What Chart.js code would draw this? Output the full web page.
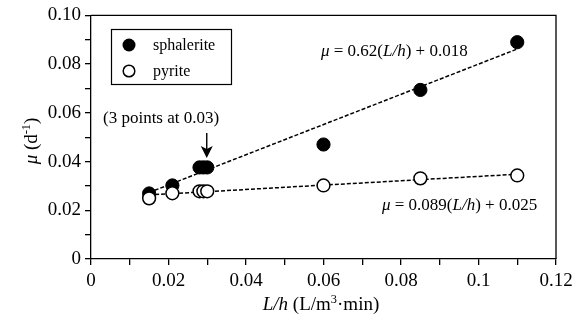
<!DOCTYPE html>
<html>
<head>
<meta charset="utf-8">
<script src="https://cdn.jsdelivr.net/npm/chart.js@4"></script>
<style>
  html, body { margin: 0; padding: 0; background: #fff; }
  #wrap { width: 579px; height: 328px; }
</style>
</head>
<body>
<div id="wrap"><canvas id="c"></canvas></div>
<script>
// measured points
const sphaleriteX = [0.015, 0.021, 0.028, 0.029, 0.030, 0.060, 0.085, 0.110];
const sphaleriteY = [0.0269, 0.0302, 0.0376, 0.0376, 0.0376, 0.0470, 0.0694, 0.0890];
const pyriteX = [0.015, 0.021, 0.028, 0.029, 0.030, 0.060, 0.085, 0.110];
const pyriteY = [0.0249, 0.0270, 0.0278, 0.0278, 0.0278, 0.0302, 0.0331, 0.0343];

// fitted lines (end points)
const sphaleriteFitX = [0.015, 0.110];
const sphaleriteFitY = [0.0273, 0.0862];
const pyriteFitX = [0.015, 0.110];
const pyriteFitY = [0.0263, 0.0348];

const xTickLabels = ['0', '0.02', '0.04', '0.06', '0.08', '0.1', '0.12'];
const yTickLabels = ['0', '0.02', '0.04', '0.06', '0.08', '0.10'];

const FONT = '"Liberation Serif", "DejaVu Serif", serif';

const toPts = (xs, ys) => xs.map((x, i) => ({x: x, y: ys[i]}));

// draw "parts" of mixed text: [text, italic, sup]
function drawRich(ctx, parts, x, y, size, align) {
  const widths = parts.map(p => {
    ctx.font = (p[1] ? 'italic ' : '') + (p[2] ? size * 0.65 : size) + 'px ' + FONT;
    return ctx.measureText(p[0]).width;
  });
  const total = widths.reduce((a, b) => a + b, 0);
  let cx = align === 'center' ? x - total / 2 : x;
  ctx.textBaseline = 'alphabetic';
  ctx.textAlign = 'left';
  parts.forEach((p, i) => {
    ctx.font = (p[1] ? 'italic ' : '') + (p[2] ? size * 0.65 : size) + 'px ' + FONT;
    ctx.fillText(p[0], cx, p[2] ? y - size * 0.38 : y);
    cx += widths[i];
  });
}

const extras = {
  id: 'extras',
  afterDraw(chart) {
    const {ctx, chartArea: a, scales} = chart;
    ctx.save();
    ctx.strokeStyle = '#000';
    ctx.fillStyle = '#000';
    ctx.lineWidth = 1.3;
    // frame top and right
    ctx.beginPath();
    ctx.moveTo(a.left, a.top);
    ctx.lineTo(a.right, a.top);
    ctx.lineTo(a.right, a.bottom);
    ctx.stroke();

    // legend box
    ctx.lineWidth = 1.2;
    ctx.strokeRect(111.5, 29.5, 120, 55);
    ctx.beginPath();
    ctx.arc(129, 45, 6.5, 0, Math.PI * 2);
    ctx.fill();
    ctx.beginPath();
    ctx.arc(129, 71, 5.8, 0, Math.PI * 2);
    ctx.fillStyle = '#fff';
    ctx.lineWidth = 1.5;
    ctx.fill();
    ctx.stroke();
    ctx.fillStyle = '#000';
    ctx.font = '16px ' + FONT;
    ctx.textBaseline = 'alphabetic';
    ctx.textAlign = 'left';
    ctx.fillText('sphalerite', 153, 50);
    ctx.fillText('pyrite', 153, 76);

    // annotation + arrow
    ctx.font = '17px ' + FONT;
    ctx.fillText('(3 points at 0.03)', 103, 123);
    const ax = scales.x.getPixelForValue(0.030) - 0.5;
    ctx.lineWidth = 1.4;
    ctx.beginPath();
    ctx.moveTo(ax, 133);
    ctx.lineTo(ax, 151);
    ctx.stroke();
    ctx.beginPath();
    ctx.moveTo(ax - 6, 146);
    ctx.lineTo(ax, 158);
    ctx.lineTo(ax + 6, 146);
    ctx.lineTo(ax, 149);
    ctx.closePath();
    ctx.fill();

    // equations
    drawRich(ctx, [['μ', true], [' = 0.62(', false], ['L/h', true], [') + 0.018', false]], 321, 56, 17, 'left');
    drawRich(ctx, [['μ', true], [' = 0.089(', false], ['L/h', true], [') + 0.025', false]], 382, 210, 17, 'left');

    // axis titles
    drawRich(ctx, [['L/h', true], [' (L/m', false], ['3', false, true], ['·min)', false]], 321, 310, 19, 'center');
    ctx.translate(37, 141);
    ctx.rotate(-Math.PI / 2);
    drawRich(ctx, [['μ', true], [' (d', false], ['-1', false, true], [')', false]], 0, 0, 19, 'center');
    ctx.restore();
  }
};

const pointStyle = (fill, r, bw, order) => ({
  showLine: false,
  order: order,
  pointRadius: r,
  pointHoverRadius: r,
  pointBackgroundColor: fill,
  pointBorderColor: '#000',
  pointBorderWidth: bw,
});

const fitStyle = {
  showLine: true,
  order: 2,
  borderColor: '#000',
  borderWidth: 1.5,
  borderDash: [4, 2],
  pointRadius: 0,
  fill: false,
};

new Chart(document.getElementById('c'), {
  type: 'scatter',
  data: {
    datasets: [
      {label: 'sphalerite fit', data: toPts(sphaleriteFitX, sphaleriteFitY), ...fitStyle},
      {label: 'pyrite fit', data: toPts(pyriteFitX, pyriteFitY), ...fitStyle},
      {label: 'sphalerite', data: toPts(sphaleriteX, sphaleriteY), ...pointStyle('#000', 6.6, 1, 1)},
      {label: 'pyrite', data: toPts(pyriteX, pyriteY), ...pointStyle('#fff', 6.4, 1.5, 0)},
    ]
  },
  options: {
    responsive: true,
    maintainAspectRatio: false,
    animation: false,
    layout: {padding: {top: 14, right: 23, left: 0, bottom: 0}},
    plugins: {legend: {display: false}, tooltip: {enabled: false}},
    scales: {
      x: {
        type: 'linear', min: 0, max: 0.12,
        afterFit(s) { s.height = 69; },
        grid: {drawOnChartArea: false, tickLength: 6, color: '#000', lineWidth: 1.3},
        border: {color: '#000', width: 1.3},
        ticks: {
          stepSize: 0.01, color: '#000', padding: 5,
          font: {family: FONT, size: 19},
          autoSkip: false, maxRotation: 0,
          callback: (v, i) => i % 2 === 0 ? xTickLabels[i / 2] : ''
        }
      },
      y: {
        type: 'linear', min: 0, max: 0.10,
        afterFit(s) { s.width = 91; },
        grid: {drawOnChartArea: false, tickLength: 6, color: '#000', lineWidth: 1.3},
        border: {color: '#000', width: 1.3},
        ticks: {
          stepSize: 0.01, color: '#000', padding: 4,
          font: {family: FONT, size: 19},
          autoSkip: false,
          callback: (v, i) => i % 2 === 0 ? yTickLabels[i / 2] : ''
        }
      }
    }
  },
  plugins: [extras]
});
</script>
</body>
</html>
